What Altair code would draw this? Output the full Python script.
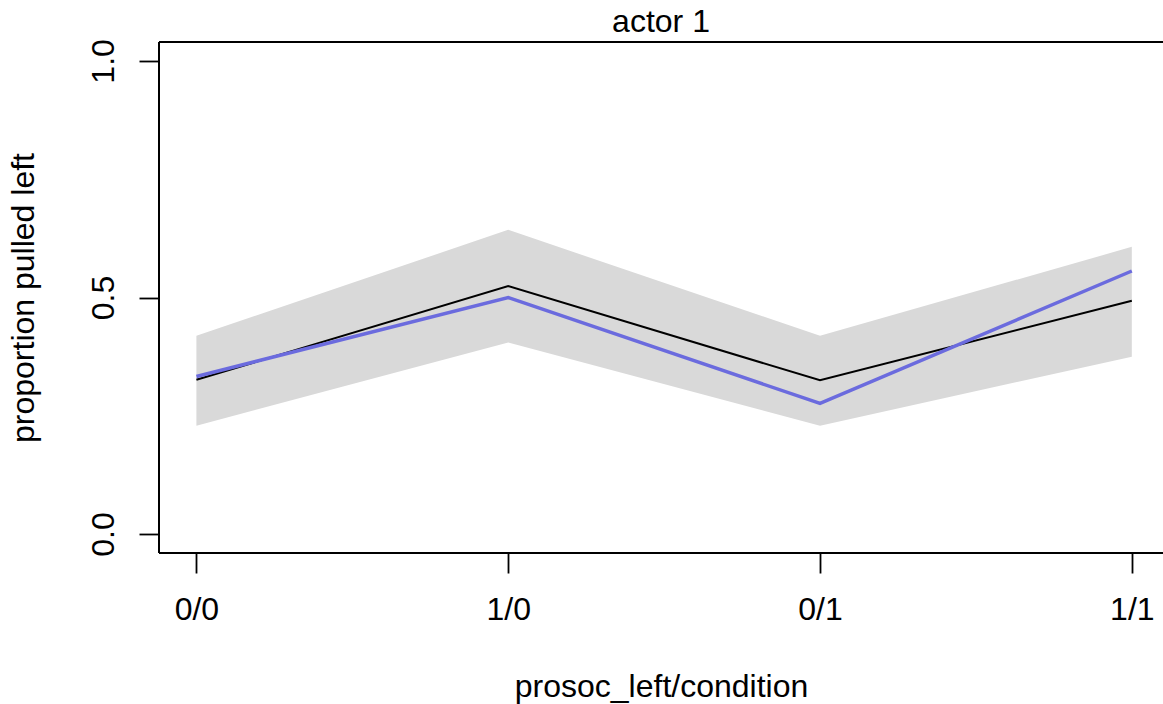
import altair as alt
import pandas as pd

categories = ["0/0", "1/0", "0/1", "1/1"]
positions = [1, 2, 3, 4]
observed = [0.326, 0.524, 0.325, 0.493]
model_mean = [0.333, 0.500, 0.276, 0.556]
band_lower = [0.229, 0.405, 0.229, 0.375]
band_upper = [0.419, 0.643, 0.419, 0.607]

df = pd.DataFrame({
    "pos": positions,
    "cat": categories,
    "obs": observed,
    "mean": model_mean,
    "lo": band_lower,
    "hi": band_upper,
})

FONT = "Liberation Sans"
FS = 32
W, H = 1004, 511

xscale = alt.Scale(domain=[0.88, 4.10], nice=False, zero=False)
yscale = alt.Scale(domain=[-0.04, 1.04], nice=False, zero=False)

label_expr = "datum.value == 1 ? '0/0' : datum.value == 2 ? '1/0' : datum.value == 3 ? '0/1' : '1/1'"

xaxis = alt.Axis(
    values=positions, labelExpr=label_expr, title="prosoc_left/condition",
    domain=False, ticks=True, tickSize=20, tickColor="black", tickWidth=1.8,
    grid=False, labelFont=FONT, labelFontSize=FS, labelColor="black",
    labelPadding=21, titleFont=FONT, titleFontSize=FS, titleFontWeight="normal",
    titleColor="black", titlePadding=46, labelFlush=False,
)
yaxis = alt.Axis(
    values=[0, 0.5, 1], format=".1f", title="proportion pulled left",
    domain=False, ticks=True, tickSize=20, tickColor="black", tickWidth=1.8,
    grid=False, labelFont=FONT, labelFontSize=FS, labelColor="black",
    labelAngle=270, labelAlign="center", labelBaseline="bottom", labelPadding=19,
    titleFont=FONT, titleFontSize=FS, titleFontWeight="normal", titleColor="black",
    titlePadding=47, labelFlush=False,
)

band = alt.Chart(df).mark_area(color="#D9D9D9", opacity=1).encode(
    x=alt.X("pos:Q", scale=xscale, axis=xaxis),
    y=alt.Y("lo:Q", scale=yscale, axis=yaxis),
    y2="hi:Q",
)
obs_line = alt.Chart(df).mark_line(color="black", strokeWidth=2).encode(
    x=alt.X("pos:Q", scale=xscale), y=alt.Y("obs:Q", scale=yscale)
)
mean_line = alt.Chart(df).mark_line(color="#6B6BDE", strokeWidth=3.5).encode(
    x=alt.X("pos:Q", scale=xscale), y=alt.Y("mean:Q", scale=yscale)
)

# box edges (top, left, bottom); right edge lies outside the window
top_edge = alt.Chart(df).mark_rule(color="black", strokeWidth=2).encode(
    x=alt.value(0), x2=alt.value(W), y=alt.value(0)
)
bottom_edge = alt.Chart(df).mark_rule(color="black", strokeWidth=2).encode(
    x=alt.value(0), x2=alt.value(W), y=alt.value(H)
)
left_edge = alt.Chart(df).mark_rule(color="black", strokeWidth=2).encode(
    x=alt.value(0), y=alt.value(0), y2=alt.value(H)
)

chart = alt.layer(band, obs_line, mean_line, top_edge, bottom_edge, left_edge).properties(
    width=W, height=H,
    title=alt.TitleParams("actor 1", font=FONT, fontSize=FS, fontWeight="normal",
                          color="black", anchor="middle", offset=0),
    autosize=alt.AutoSizeParams(type="none"),
    padding={"left": 159, "top": 42, "right": 0, "bottom": 151},
).configure_view(stroke=None).configure(background="white")

chart.save("out.html", embed_options={"renderer": "svg", "actions": False})
